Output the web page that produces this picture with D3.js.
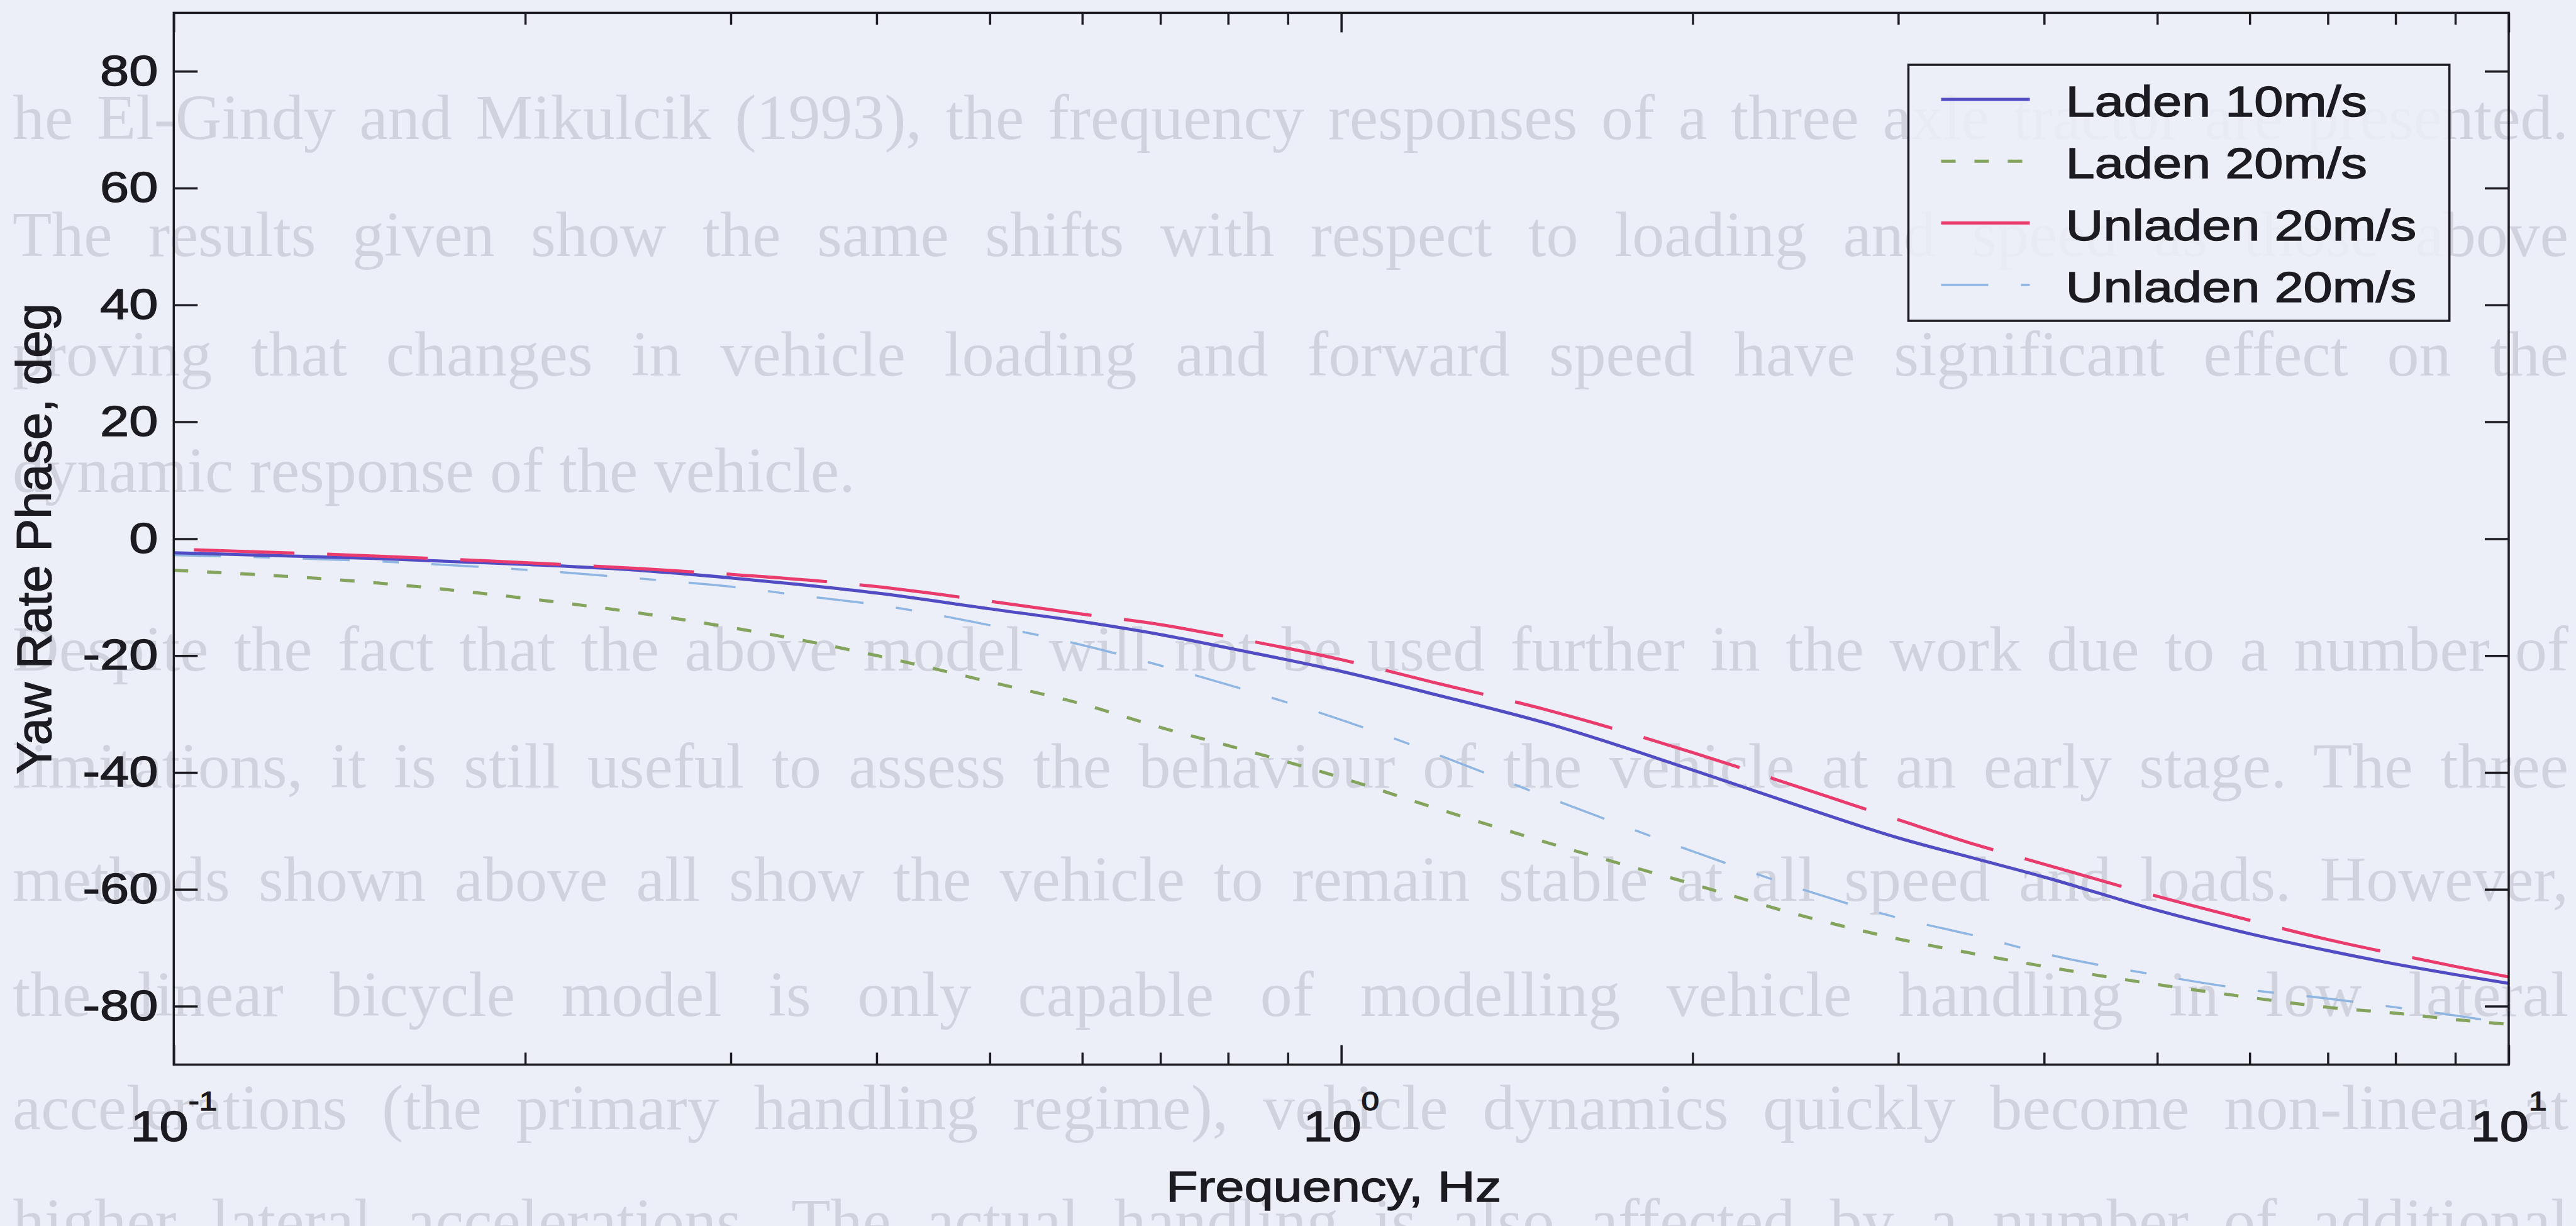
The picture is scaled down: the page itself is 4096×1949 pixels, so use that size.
<!DOCTYPE html>
<html><head><meta charset="utf-8">
<script src="https://cdn.jsdelivr.net/npm/d3@7"></script>
<style>
html,body{margin:0;padding:0;background:#eceff8;overflow:hidden}
svg{display:block}
</style></head><body>
<svg id="chart" width="4096" height="1949"></svg>
<script>
// ---------------- data ----------------
const frequencies = [0.1,0.15,0.2,0.25,0.3,0.35,0.4,0.5,0.6,0.7,0.8,1.0,1.2,1.5,2.0,2.5,3.0,3.5,4.0,5.0,6.0,7.0,8.0,9.0,10.0];
const laden10   = [-2.4,-3.4,-4.4,-5.4,-6.7,-8.0,-9.3,-12.0,-14.2,-16.4,-18.7,-22.7,-26.6,-31.6,-39.6,-46.1,-51.2,-54.8,-57.9,-63.6,-67.6,-70.5,-72.8,-74.6,-76.1];
const laden20   = [-5.4,-7.6,-10.2,-12.7,-15.2,-17.6,-20.0,-24.5,-28.3,-32.3,-35.4,-40.9,-46.0,-52.0,-59.1,-64.7,-68.5,-71.1,-73.2,-76.3,-78.5,-80.2,-81.2,-82.3,-83.1];
const unladen20 = [-1.8,-3.0,-4.1,-5.1,-6.1,-7.1,-8.2,-10.7,-12.9,-14.7,-16.8,-20.7,-24.6,-29.3,-36.6,-42.9,-48.1,-52.4,-55.7,-61.2,-65.3,-68.6,-71.1,-73.2,-75.0];
const unladen20b= [-2.8,-3.9,-5.3,-6.8,-8.2,-9.9,-11.3,-14.8,-18.2,-21.7,-25.0,-31.0,-36.7,-44.2,-53.5,-60.2,-64.9,-68.0,-71.0,-74.7,-77.2,-78.7,-80.2,-81.6,-83.0];
const seriesNames = ["Laden 10m/s","Laden 20m/s","Unladen 20m/s","Unladen 20m/s"];
const yTickValues = [-80,-60,-40,-20,0,20,40,60,80];
const xMajorTickValues = [0.1,1,10];
const xMinorTickValues = [0.2,0.3,0.4,0.5,0.6,0.7,0.8,0.9,2,3,4,5,6,7,8,9];
const xLabel = "Frequency, Hz";
const yLabel = "Yaw Rate Phase, deg";
// faint page text showing through the scanned figure
const pageLines = [
  "he El-Gindy and Mikulcik (1993), the frequency responses of a three axle tractor are presented.",
  "The results given show the same shifts with respect to loading and speed as those above",
  "proving that changes in vehicle loading and forward speed have significant effect on the",
  "dynamic response of the vehicle.",
  "Despite the fact that the above model will not be used further in the work due to a number of",
  "limitations, it is still useful to assess the behaviour of the vehicle at an early stage. The three",
  "methods shown above all show the vehicle to remain stable at all speed and loads. However,",
  "the linear bicycle model is only capable of modelling vehicle handling in low lateral",
  "accelerations (the primary handling regime), vehicle dynamics quickly become non-linear at",
  "higher lateral accelerations. The actual handling is also affected by a number of additional"
];
const pageLineBaselines = [221, 407, 597, 782, 1066, 1252, 1432, 1615, 1795, 1976];
const pageLineJustified = [true, true, true, false, true, true, true, true, true, true];

// ---------------- layout / style ----------------
const FONT = "'Liberation Sans', Arial, Helvetica, sans-serif";
const FS = 68, STRETCH = 1.22;
const INK = "#1d1b22";
const BG = "#eceff8";
const L = 276.3, R = 3989, T = 20.4, B = 1692.4;
const PAGE_X = 20, PAGE_W = 4064;

const svg = d3.select("#chart");
svg.append("rect").attr("width", 4096).attr("height", 1949).attr("fill", BG);

// background page text (justified with word spacing)
const gPage = svg.append("g");
pageLines.forEach((t, i) => {
  const el = gPage.append("text")
    .attr("x", PAGE_X).attr("y", pageLineBaselines[i])
    .attr("font-family", "'Liberation Serif', 'Times New Roman', serif")
    .attr("font-size", 102).attr("fill", "#d0d3de")
    .text(t);
  if (pageLineJustified[i]) {
    const natural = el.node().getComputedTextLength();
    const nSpaces = (t.match(/ /g) || []).length;
    el.attr("word-spacing", ((PAGE_W - natural) / nSpaces).toFixed(2));
  }
});

const x = d3.scaleLog().domain([0.1, 10]).range([L, R]);
const y = d3.scaleLinear().domain([-90, 90]).range([B, T]);

const series = [
  {name: seriesNames[0], values: laden10,    color: "#524cc4", width: 5,   dash: null},
  {name: seriesNames[1], values: laden20,    color: "#84a35c", width: 5,   dash: "23,30"},
  {name: seriesNames[2], values: unladen20,  color: "#ea3b6d", width: 5,   dash: "160,52", offset: 180},
  {name: seriesNames[3], values: unladen20b, color: "#8fb6e2", width: 3.5, dash: "75,52,26,52"}
];

svg.append("defs").append("clipPath").attr("id","plotclip")
  .append("rect").attr("x", L).attr("y", T).attr("width", R - L).attr("height", B - T);

// ---------------- lines ----------------
const line = d3.line().x(d => x(d[0])).y(d => y(d[1])).curve(d3.curveMonotoneX);
const gLines = svg.append("g").attr("clip-path","url(#plotclip)");
const drawOrder = [3, 1, 0, 2];
drawOrder.forEach(k => {
  const s = series[k];
  gLines.append("path")
    .datum(frequencies.map((f, i) => [f, s.values[i]]))
    .attr("d", line)
    .attr("fill","none")
    .attr("stroke", s.color)
    .attr("stroke-width", s.width)
    .attr("stroke-dasharray", s.dash)
    .attr("stroke-dashoffset", s.offset || 0)
    .attr("stroke-linejoin","round");
});

// ---------------- axes ----------------
function styleAxis(g){
  g.select(".domain").remove();
  g.selectAll(".tick line").attr("stroke", INK).attr("stroke-width", 3.5);
}
function styleText(sel){
  sel.attr("font-family", FONT).attr("fill", INK)
     .attr("stroke", INK).attr("stroke-width", 1.4);
}
// left
const gLeft = svg.append("g").attr("transform", `translate(${L},0)`)
  .call(d3.axisLeft(y).tickValues(yTickValues).tickSize(-38).tickPadding(25).tickFormat(d => String(d)));
styleAxis(gLeft);
gLeft.selectAll(".tick text")
  .attr("font-size", FS)
  .attr("x", -25 / STRETCH).attr("transform", `scale(${STRETCH},1)`)
  .call(styleText);
// right
const gRight = svg.append("g").attr("transform", `translate(${R},0)`)
  .call(d3.axisRight(y).tickValues(yTickValues).tickSize(-38).tickFormat(""));
styleAxis(gRight);
// bottom / top minor and major
[[B, d3.axisBottom], [T, d3.axisTop]].forEach(([pos, ax]) => {
  const gMin = svg.append("g").attr("transform", `translate(0,${pos})`)
    .call(ax(x).tickValues(xMinorTickValues).tickSize(-19).tickFormat(""));
  styleAxis(gMin);
  const gMaj = svg.append("g").attr("transform", `translate(0,${pos})`)
    .call(ax(x).tickValues(xMajorTickValues).tickSize(-31).tickFormat(""));
  styleAxis(gMaj);
});
// frame
svg.append("rect").attr("x", L).attr("y", T).attr("width", R - L).attr("height", B - T)
  .attr("fill","none").attr("stroke", INK).attr("stroke-width", 3.5);

// x tick labels 10^n
xMajorTickValues.forEach(v => {
  const t = svg.append("text")
    .attr("transform", `translate(${x(v)},${B + 122}) scale(${STRETCH},1)`)
    .attr("text-anchor","middle").call(styleText);
  t.append("tspan").attr("font-size", FS).text("10");
  t.append("tspan").attr("font-size", 42).attr("dy", -49).text(String(Math.round(Math.log10(v))));
});

// axis titles
svg.append("text")
  .attr("transform", `translate(${(L + R) / 2 - 12},${B + 218}) scale(${STRETCH},1)`)
  .attr("text-anchor","middle").attr("font-size", FS).call(styleText)
  .text(xLabel);
svg.append("text")
  .attr("transform", `translate(81,${(T + B) / 2}) rotate(-90)`)
  .attr("text-anchor","middle").attr("font-size", 78).call(styleText)
  .text(yLabel);

// ---------------- legend ----------------
const lg = {x0: 3034.5, y0: 103, x1: 3894.7, y1: 510};
svg.append("rect").attr("x", lg.x0).attr("y", lg.y0)
  .attr("width", lg.x1 - lg.x0).attr("height", lg.y1 - lg.y0)
  .attr("fill", BG).attr("fill-opacity", 0.85).attr("stroke", INK).attr("stroke-width", 3.5);
series.forEach((s, i) => {
  const yy = lg.y0 + 55 + i * 98.3;
  svg.append("line").attr("x1", lg.x0 + 52).attr("x2", lg.x0 + 193)
    .attr("y1", yy).attr("y2", yy)
    .attr("stroke", s.color).attr("stroke-width", s.width)
    .attr("stroke-dasharray", s.dash);
  svg.append("text")
    .attr("transform", `translate(${lg.x0 + 250},${yy + 27}) scale(${STRETCH},1)`)
    .attr("font-size", FS).call(styleText)
    .text(s.name);
});
</script>
</body></html>
